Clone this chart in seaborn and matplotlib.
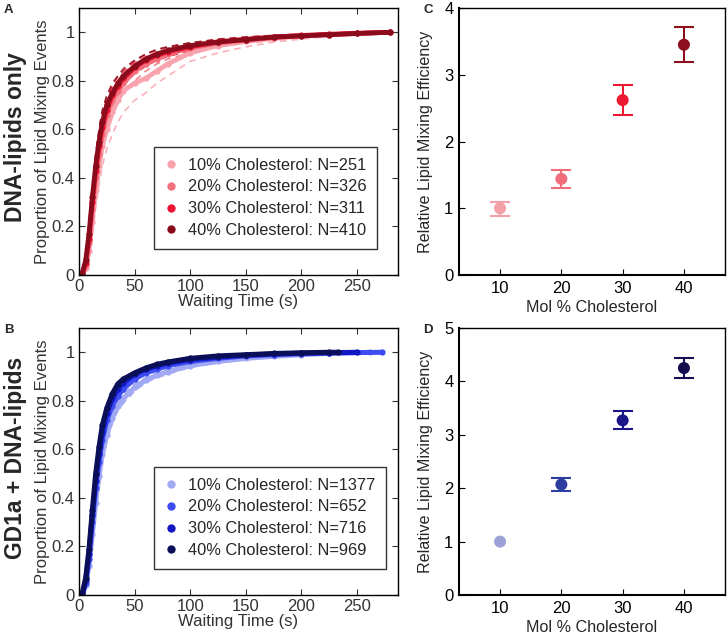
import numpy as np
import pandas as pd
import matplotlib
matplotlib.use("Agg")
import matplotlib.pyplot as plt
import seaborn as sns

# ---------------- data ----------------
LABELS = ["10%", "20%", "30%", "40%"]

# Panel A: cumulative proportion of lipid mixing events (DNA-lipids only)
T_A = [0, 3, 6, 9, 12, 15, 18, 21, 25, 30, 35, 40, 50, 60, 70, 80, 100, 125, 150, 175, 200, 225, 250, 280]
N_A = [251, 326, 311, 410]
CDF_A_10 = [0, 0.0, 0.03, 0.10, 0.22, 0.35, 0.45, 0.53, 0.60, 0.67, 0.72, 0.76, 0.79, 0.81, 0.84, 0.87, 0.915, 0.945, 0.962, 0.975, 0.985, 0.990, 0.995, 1.0]
CDF_A_20 = [0, 0.0, 0.04, 0.13, 0.27, 0.40, 0.50, 0.58, 0.66, 0.72, 0.76, 0.79, 0.84, 0.87, 0.89, 0.91, 0.935, 0.955, 0.968, 0.978, 0.985, 0.990, 0.995, 1.0]
CDF_A_30 = [0, 0.0, 0.05, 0.15, 0.30, 0.43, 0.53, 0.61, 0.68, 0.74, 0.78, 0.81, 0.855, 0.885, 0.905, 0.92, 0.94, 0.96, 0.970, 0.980, 0.987, 0.992, 0.996, 1.0]
CDF_A_40 = [0, 0.01, 0.06, 0.17, 0.32, 0.45, 0.55, 0.63, 0.70, 0.75, 0.79, 0.82, 0.86, 0.89, 0.91, 0.925, 0.945, 0.96, 0.970, 0.980, 0.985, 0.990, 0.995, 1.0]
LO_A_10 = [0, 0.0, 0.01, 0.06, 0.16, 0.28, 0.37, 0.45, 0.52, 0.58, 0.63, 0.67, 0.72, 0.75, 0.79, 0.82, 0.88, 0.915, 0.940, 0.960, 0.972, 0.982, 0.990, 1.0]
HI_A_10 = [0, 0.01, 0.05, 0.14, 0.28, 0.42, 0.52, 0.60, 0.67, 0.74, 0.78, 0.82, 0.85, 0.87, 0.89, 0.91, 0.94, 0.965, 0.978, 0.987, 0.993, 0.996, 0.998, 1.0]
LO_A_20 = [0, 0.0, 0.02, 0.09, 0.21, 0.34, 0.44, 0.52, 0.60, 0.67, 0.72, 0.75, 0.80, 0.84, 0.87, 0.89, 0.915, 0.94, 0.955, 0.968, 0.978, 0.985, 0.992, 1.0]
HI_A_20 = [0, 0.01, 0.06, 0.17, 0.33, 0.46, 0.56, 0.64, 0.71, 0.77, 0.80, 0.83, 0.875, 0.90, 0.915, 0.93, 0.952, 0.968, 0.978, 0.986, 0.991, 0.995, 0.998, 1.0]
LO_A_30 = [0, 0.0, 0.03, 0.11, 0.24, 0.37, 0.47, 0.55, 0.63, 0.70, 0.74, 0.78, 0.83, 0.86, 0.885, 0.90, 0.925, 0.948, 0.962, 0.973, 0.982, 0.988, 0.993, 1.0]
HI_A_30 = [0, 0.01, 0.07, 0.19, 0.36, 0.49, 0.59, 0.67, 0.73, 0.78, 0.82, 0.84, 0.88, 0.91, 0.925, 0.94, 0.955, 0.972, 0.980, 0.987, 0.992, 0.995, 0.998, 1.0]
LO_A_40 = [0, 0.0, 0.04, 0.13, 0.27, 0.40, 0.50, 0.59, 0.66, 0.72, 0.76, 0.79, 0.84, 0.87, 0.89, 0.91, 0.932, 0.950, 0.962, 0.974, 0.980, 0.986, 0.992, 1.0]
HI_A_40 = [0, 0.02, 0.08, 0.21, 0.37, 0.50, 0.60, 0.68, 0.74, 0.79, 0.82, 0.85, 0.885, 0.91, 0.93, 0.94, 0.957, 0.970, 0.980, 0.987, 0.992, 0.995, 0.998, 1.0]

# Panel B: cumulative proportion (GD1a + DNA-lipids)
T_B = [0, 3, 6, 9, 12, 15, 18, 21, 25, 30, 35, 40, 50, 60, 70, 80, 100, 125, 150, 175, 200, 225]
END_B = [262, 273, 250, 233]
N_B = [1377, 652, 716, 969]
CDF_B_10 = [0, 0.0, 0.04, 0.12, 0.25, 0.38, 0.49, 0.58, 0.66, 0.73, 0.78, 0.81, 0.855, 0.885, 0.905, 0.92, 0.945, 0.962, 0.975, 0.983, 0.990, 0.995, 1.0]
CDF_B_20 = [0, 0.0, 0.05, 0.15, 0.30, 0.44, 0.55, 0.64, 0.72, 0.78, 0.82, 0.85, 0.89, 0.915, 0.93, 0.945, 0.962, 0.975, 0.985, 0.990, 0.994, 0.997, 1.0]
CDF_B_30 = [0, 0.0, 0.06, 0.17, 0.33, 0.47, 0.58, 0.67, 0.75, 0.81, 0.85, 0.875, 0.91, 0.93, 0.945, 0.955, 0.970, 0.980, 0.988, 0.993, 0.996, 0.998, 1.0]
CDF_B_40 = [0, 0.01, 0.07, 0.19, 0.35, 0.50, 0.61, 0.70, 0.77, 0.83, 0.87, 0.89, 0.915, 0.935, 0.950, 0.960, 0.975, 0.985, 0.990, 0.995, 0.998, 1.0, 1.0]
LO_B_10 = [0, 0.0, 0.03, 0.10, 0.22, 0.35, 0.46, 0.55, 0.63, 0.71, 0.76, 0.79, 0.84, 0.875, 0.895, 0.91, 0.938, 0.957, 0.970, 0.980, 0.988, 0.993, 1.0]
HI_B_10 = [0, 0.01, 0.05, 0.14, 0.28, 0.41, 0.52, 0.61, 0.69, 0.75, 0.80, 0.83, 0.87, 0.895, 0.915, 0.93, 0.952, 0.967, 0.979, 0.986, 0.992, 0.996, 1.0]

# Panels C and D: relative lipid mixing efficiency
MOL = [10, 20, 30, 40]
EFF_C = [1.00, 1.44, 2.62, 3.45]
EFF_C_LO = [0.89, 1.31, 2.39, 3.19]
EFF_C_HI = [1.10, 1.57, 2.85, 3.71]
EFF_D = [1.00, 2.07, 3.27, 4.25]
EFF_D_LO = [1.00, 1.95, 3.10, 4.07]
EFF_D_HI = [1.00, 2.19, 3.44, 4.43]

RED_LINE = ["#f8a3ad", "#f2707d", "#ec1431", "#8a0c1c"]
BLUE_LINE = ["#a1a9f4", "#3c4cf0", "#1117c2", "#0b0f57"]
RED_PT = ["#f3a0a8", "#f06e7b", "#ec1933", "#8c0f1e"]
BLUE_PT = ["#9ca2d6", "#2d3ea0", "#1a1588", "#14104f"]

# ---------------- style ----------------
sns.set_style("ticks")
plt.rcParams["font.family"] = ["Liberation Sans", "DejaVu Sans"]
plt.rcParams["xtick.direction"] = "in"
plt.rcParams["ytick.direction"] = "in"

fig = plt.figure(figsize=(7.27, 6.4), dpi=100)
W, H = 727.0, 640.0


def add_ax(l, t, r, b):
    return fig.add_axes([l / W, 1 - b / H, (r - l) / W, (b - t) / H])


axA = add_ax(79, 8, 398, 275)
axB = add_ax(79, 328, 398, 595)
axC = add_ax(459, 8, 725, 275)
axD = add_ax(459, 328, 725, 595)

GREY = "#333333"
FS = 12


def style_cdf(ax):
    ax.set_xlim(0, 287)
    ax.set_ylim(0, 1.1)
    ax.set_xticks([0, 50, 100, 150, 200, 250])
    ax.set_yticks([0, 0.2, 0.4, 0.6, 0.8, 1.0])
    ax.set_yticklabels(["0", "0.2", "0.4", "0.6", "0.8", "1"])
    ax.tick_params(top=True, right=True, labelsize=FS, colors=GREY, length=4, width=0.8,
                   labelcolor=GREY, pad=3)
    ax.set_xlabel("Waiting Time (s)", fontsize=FS, color=GREY, labelpad=0)
    ax.set_ylabel("Proportion of Lipid Mixing Events", fontsize=FS, color=GREY, labelpad=1)
    for s in ax.spines.values():
        s.set_color("black")
        s.set_linewidth(1.0)


def add_legend(ax, handles):
    leg = ax.legend(handles=handles, loc="lower left", bbox_to_anchor=(0.236, 0.098),
                    fontsize=11.8, frameon=True, fancybox=False, edgecolor="black",
                    handlelength=0.8, handletextpad=0.6, labelspacing=0.42, borderpad=0.65,
                    borderaxespad=0)
    leg.get_frame().set_linewidth(1.0)


# --- Panel A ---
cdf_A = [CDF_A_10, CDF_A_20, CDF_A_30, CDF_A_40]
lo_A = [LO_A_10, LO_A_20, LO_A_30, LO_A_40]
hi_A = [HI_A_10, HI_A_20, HI_A_30, HI_A_40]
handles = []
for i in range(4):
    dfb = pd.DataFrame({"t": T_A, "lo": lo_A[i], "hi": hi_A[i]})
    for col in ["lo", "hi"]:
        sns.lineplot(data=dfb, x="t", y=col, ax=axA, color=RED_LINE[i], lw=1.2,
                     linestyle=(0, (4, 3)), alpha=0.85, legend=False)
for i in range(4):
    df = pd.DataFrame({"t": T_A, "p": cdf_A[i]})
    sns.lineplot(data=df, x="t", y="p", ax=axA, color=RED_LINE[i], lw=3.4,
                 marker="o", markersize=4.5, markeredgewidth=0, legend=False)
    handles.append(plt.Line2D([], [], ls="none", marker="o", ms=6, mew=0, color=RED_LINE[i],
                              label=f"{LABELS[i]} Cholesterol: N={N_A[i]}"))
style_cdf(axA)
add_legend(axA, handles)

# --- Panel B ---
cdf_B = [CDF_B_10, CDF_B_20, CDF_B_30, CDF_B_40]
dfb = pd.DataFrame({"t": T_B + [END_B[0]], "lo": LO_B_10, "hi": HI_B_10})
for col in ["lo", "hi"]:
    sns.lineplot(data=dfb, x="t", y=col, ax=axB, color=BLUE_LINE[0], lw=1.2,
                 linestyle=(0, (4, 3)), legend=False)
handles = []
for i in range(4):
    df = pd.DataFrame({"t": T_B + [END_B[i]], "p": cdf_B[i]})
    sns.lineplot(data=df, x="t", y="p", ax=axB, color=BLUE_LINE[i], lw=3.6,
                 marker="o", markersize=4.5, markeredgewidth=0, legend=False)
    handles.append(plt.Line2D([], [], ls="none", marker="o", ms=6, mew=0, color=BLUE_LINE[i],
                              label=f"{LABELS[i]} Cholesterol: N={N_B[i]}"))
style_cdf(axB)
add_legend(axB, handles)


# --- Panels C and D ---
def eff_panel(ax, eff, lo, hi, colors, ymax):
    df = pd.DataFrame({"mol": MOL, "eff": eff, "grp": LABELS})
    for i in range(4):
        if hi[i] > lo[i]:
            ax.errorbar(MOL[i], eff[i], yerr=[[eff[i] - lo[i]], [hi[i] - eff[i]]],
                        fmt="none", ecolor=colors[i], elinewidth=1.5, capsize=7,
                        capthick=1.5, zorder=2)
    sns.scatterplot(data=df, x="mol", y="eff", hue="grp", palette=colors, s=75,
                    linewidth=0, ax=ax, legend=False, zorder=3)
    ax.set_xlim(3.3, 46.7)
    ax.set_ylim(0, ymax)
    ax.set_xticks(MOL)
    ax.set_yticks(range(0, ymax + 1))
    ax.tick_params(labelsize=FS, length=4, width=0.8, colors="black", pad=4)
    ax.set_xlabel("Mol % Cholesterol", fontsize=11.6, labelpad=3)
    ax.set_ylabel("Relative Lipid Mixing Efficiency", fontsize=11.6, labelpad=8)
    for s in ax.spines.values():
        s.set_color("black")
        s.set_linewidth(1.0)
    ax.spines["left"].set_linewidth(1.5)
    ax.spines["bottom"].set_linewidth(1.5)


eff_panel(axC, EFF_C, EFF_C_LO, EFF_C_HI, RED_PT, 4)
eff_panel(axD, EFF_D, EFF_D_LO, EFF_D_HI, BLUE_PT, 5)

# --- labels ---
fig.text(16 / W, 1 - 137 / H, "DNA-lipids only", rotation=90, fontsize=16.5,
         fontweight="bold", ha="center", va="center")
fig.text(16 / W, 1 - 458 / H, "GD1a + DNA-lipids", rotation=90, fontsize=16.5,
         fontweight="bold", ha="center", va="center")
for lab, x, y in [("A", 4, 4), ("B", 4, 324), ("C", 423, 4), ("D", 423, 324)]:
    fig.text(x / W, 1 - y / H, lab, fontsize=9.5, fontweight="bold", ha="left", va="top")

fig.savefig("out.png", dpi=100)
